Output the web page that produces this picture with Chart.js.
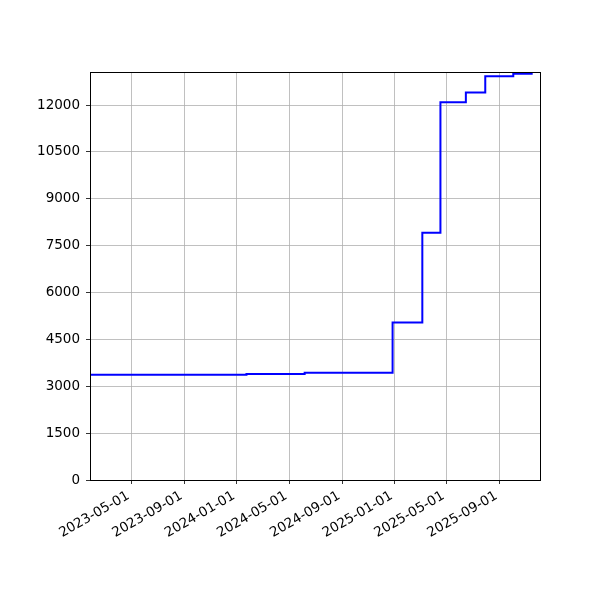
<!DOCTYPE html>
<html>
<head>
<meta charset="utf-8">
<script src="https://cdn.jsdelivr.net/npm/chart.js@4/dist/chart.umd.min.js"></script>
<style>
html,body{margin:0;padding:0;background:#fff;}
#wrap{width:600px;height:600px;position:relative;}
</style>
</head>
<body>
<div id="wrap"><canvas id="c" width="600" height="600"></canvas></div>
<script>
// Data (step changes)
const stepDates = ['2023-01-25','2024-01-23','2024-06-06','2024-12-27','2025-03-06','2025-04-17','2025-06-15','2025-07-30','2025-10-03','2025-11-17'];
const stepValues = [3370, 3392, 3435, 5040, 7910, 12090, 12400, 12920, 13000, 13000];
const xTickLabels = ['2023-05-01','2023-09-01','2024-01-01','2024-05-01','2024-09-01','2025-01-01','2025-05-01','2025-09-01'];
const yTickValues = [0,1500,3000,4500,6000,7500,9000,10500,12000];
const xRange = ['2023-01-25','2025-12-04'];
const yRange = [0, 13056];

const DAY = 86400000;
const toDays = s => Date.parse(s + 'T00:00:00Z') / DAY;
const fmt = d => new Date(d * DAY).toISOString().slice(0,10);

const points = stepDates.map((d,i) => ({x: toDays(d), y: stepValues[i]}));
const FONT = {family: 'DejaVu Sans', size: 13.5};

const frame = {
  id: 'frame',
  afterDatasetsDraw(chart) {
    const a = chart.chartArea, ctx = chart.ctx;
    ctx.save();
    ctx.strokeStyle = '#000';
    ctx.lineWidth = 1;
    ctx.strokeRect(Math.round(a.left)+0.5, Math.round(a.top)+0.5, Math.round(a.right-a.left), Math.round(a.bottom-a.top));
    ctx.restore();
  }
};

new Chart(document.getElementById('c'), {
  type: 'line',
  data: {
    datasets: [{
      data: points,
      borderColor: '#0000ff',
      borderWidth: 2,
      pointRadius: 0,
      fill: false,
      stepped: 'before',
      tension: 0
    }]
  },
  options: {
    responsive: false,
    animation: false,
    devicePixelRatio: 1,
    layout: {padding: {left: 0, top: 72, right: 60, bottom: 0}},
    plugins: {legend: {display: false}, tooltip: {enabled: false}},
    scales: {
      x: {
        type: 'linear',
        min: toDays(xRange[0]),
        max: toDays(xRange[1]),
        afterBuildTicks: s => { s.ticks = xTickLabels.map(t => ({value: toDays(t)})); },
        afterFit: s => { s.height = 120; },
        ticks: {
          callback: v => fmt(v),
          minRotation: 30, maxRotation: 30,
          autoSkip: false,
          color: '#000',
          font: FONT,
          padding: 4,
          labelOffset: -3
        },
        grid: {color: '#b0b0b0', lineWidth: 0.8, tickColor: '#000', tickLength: 4},
        border: {display: true, color: '#000', width: 1}
      },
      y: {
        type: 'linear',
        min: yRange[0],
        max: yRange[1],
        afterBuildTicks: s => { s.ticks = yTickValues.map(v => ({value: v})); },
        afterFit: s => { s.width = 90; },
        ticks: {
          callback: v => String(v),
          color: '#000',
          font: FONT,
          padding: 6
        },
        grid: {color: '#b0b0b0', lineWidth: 0.8, tickColor: '#000', tickLength: 4},
        border: {display: true, color: '#000', width: 1}
      }
    }
  },
  plugins: [frame]
});
</script>
</body>
</html>
